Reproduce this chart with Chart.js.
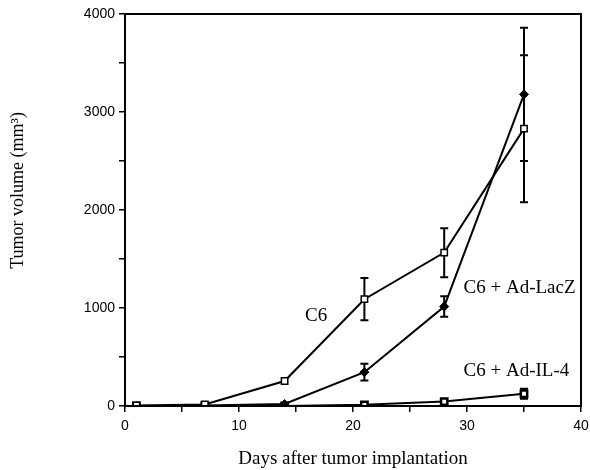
<!DOCTYPE html>
<html lang="en">
<head>
  <meta charset="UTF-8">
  <title>Tumor volume</title>
  <script src="https://cdn.jsdelivr.net/npm/chart.js"></script>
  <style>
    html, body { margin: 0; padding: 0; background: #fff; }
    .wrap { width: 590px; height: 470px; }
  </style>
</head>
<body>
<div class="wrap"><canvas id="tumorChart" width="590" height="470"></canvas></div>

<script>
  // days after implantation
  const days = [1, 7, 14, 21, 28, 35];

  // C6 (open squares)
  const c6Vol = [5, 15, 255, 1090, 1565, 2830];
  const c6Err = [0, 0, 0, 215, 250, 750];

  // C6 + Ad-LacZ (filled diamonds)
  const lacZVol = [0, 5, 20, 345, 1015, 3180];
  const lacZErr = [0, 0, 0, 85, 105, 680];

  // C6 + Ad-IL-4
  const il4Vol = [0, 0, 0, 12, 45, 125];
  const il4Err = [0, 0, 0, 0, 0, 50];

  const seriesLabels = ["C6", "C6 + Ad-LacZ", "C6 + Ad-IL-4"];
  // where the in-plot labels start (data units, left edge / middle)
  const labelAt = [[15.8, 920], [29.7, 1200], [29.7, 360]];

  const xTicks = [0, 10, 20, 30, 40];
  const yTicks = [0, 1000, 2000, 3000, 4000];
  const yTitle = "Tumor volume (mm³)";

  const serif = "'Liberation Serif', 'Times New Roman', serif";
  const sans = "'Liberation Sans', Arial, sans-serif";

  function pts(vals) {
    return days.map((d, i) => ({ x: d, y: vals[i] }));
  }

  const errorBars = {
    id: "errorBars",
    beforeDatasetsDraw(chart) {
      const ctx = chart.ctx;
      const xs = chart.scales.x, ys = chart.scales.y;
      ctx.save();
      ctx.strokeStyle = "#000";
      ctx.lineWidth = 2;
      chart.data.datasets.forEach(ds => {
        ds.errs.forEach((e, i) => {
          if (!e) return;
          const px = xs.getPixelForValue(ds.data[i].x);
          const hi = ys.getPixelForValue(ds.data[i].y + e);
          const lo = ys.getPixelForValue(ds.data[i].y - e);
          ctx.beginPath();
          ctx.moveTo(px, hi); ctx.lineTo(px, lo);
          ctx.moveTo(px - 4, hi); ctx.lineTo(px + 4, hi);
          ctx.moveTo(px - 4, lo); ctx.lineTo(px + 4, lo);
          ctx.stroke();
        });
      });
      ctx.restore();
    },
    afterDraw(chart) {
      const ctx = chart.ctx;
      const a = chart.chartArea;
      const xs = chart.scales.x, ys = chart.scales.y;
      ctx.save();
      ctx.strokeStyle = "#000";
      ctx.lineWidth = 2;
      ctx.strokeRect(a.left, a.top, a.right - a.left, a.bottom - a.top);
      ctx.fillStyle = "#000";
      ctx.font = "19px " + serif;
      ctx.textAlign = "left";
      ctx.textBaseline = "middle";
      labelAt.forEach((p, i) => {
        ctx.fillText(seriesLabels[i], xs.getPixelForValue(p[0]), ys.getPixelForValue(p[1]));
      });
      // y axis title, a bit above the middle as in the original
      ctx.translate(18, ys.getPixelForValue(2200));
      ctx.rotate(-Math.PI / 2);
      ctx.textAlign = "center";
      ctx.font = "18px " + serif;
      ctx.fillText(yTitle, 0, 0);
      ctx.restore();
    }
  };

  new Chart(document.getElementById("tumorChart"), {
    type: "line",
    data: {
      datasets: [
        {
          label: seriesLabels[0], data: pts(c6Vol), errs: c6Err,
          borderColor: "#000", borderWidth: 2,
          pointStyle: "rect", pointRadius: 4.5,
          pointBackgroundColor: "#fff", pointBorderColor: "#000", pointBorderWidth: 1.5
        },
        {
          label: seriesLabels[1], data: pts(lacZVol), errs: lacZErr,
          borderColor: "#000", borderWidth: 2,
          pointStyle: "rectRot", pointRadius: 4.5,
          pointBackgroundColor: "#000", pointBorderColor: "#000", pointBorderWidth: 1
        },
        {
          label: seriesLabels[2], data: pts(il4Vol), errs: il4Err,
          borderColor: "#000", borderWidth: 2,
          pointStyle: "rect", pointRadius: 4.5,
          pointBackgroundColor: "#fff", pointBorderColor: "#000", pointBorderWidth: 2.5
        }
      ]
    },
    options: {
      responsive: false,
      animation: false,
      layout: { padding: { top: 14, right: 9, left: 0, bottom: 0 } },
      plugins: { legend: { display: false }, tooltip: { enabled: false } },
      scales: {
        x: {
          type: "linear", min: 0, max: 40,
          afterFit: s => { s.height = 64; s.paddingRight = 0; s.paddingLeft = 0; },
          border: { color: "#000", width: 2 },
          grid: { drawOnChartArea: false, drawTicks: true, tickLength: 6, color: "#000", lineWidth: 1.5 },
          ticks: {
            stepSize: 5, color: "#000", padding: 6,
            font: { family: sans, size: 14 },
            callback: v => xTicks.includes(v) ? String(v) : ""
          },
          title: {
            display: true, text: "Days after tumor implantation", color: "#000",
            font: { family: serif, size: 19 }, padding: { top: 10, bottom: 0 }
          }
        },
        y: {
          min: 0, max: 4000,
          afterFit: s => { s.width = 125; },
          border: { color: "#000", width: 2 },
          grid: { drawOnChartArea: false, drawTicks: true, tickLength: 6, color: "#000", lineWidth: 1.5 },
          ticks: {
            stepSize: 500, color: "#000", padding: 4,
            font: { family: sans, size: 14 },
            callback: v => yTicks.includes(v) ? String(v) : ""
          },
          title: { display: false }
        }
      }
    },
    plugins: [errorBars]
  });
</script>
</body>
</html>
